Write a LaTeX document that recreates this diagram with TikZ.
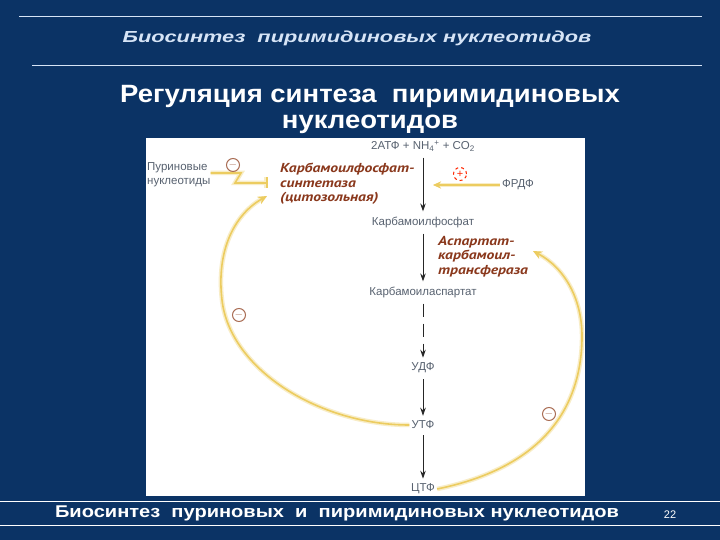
\documentclass[tikz,border=0pt]{standalone}
\usepackage{graphicx}
\usepackage{fontspec}
\setmainfont{Liberation Sans}
\newfontfamily\enzfont{PT Sans}
\usetikzlibrary{arrows.meta}

\definecolor{slideblue}{RGB}{11,51,101}
\definecolor{headtxt}{RGB}{214,228,246}
\definecolor{pathtxt}{RGB}{88,98,112}
\definecolor{enztxt}{RGB}{138,56,28}
\definecolor{feedyel}{RGB}{236,204,96}
\definecolor{signcol}{RGB}{170,110,85}

\newcommand{\widen}[2]{\scalebox{#1}[1]{#2}}

\tikzset{
	pathlbl/.style={text=pathtxt, font=\fontsize{11.5}{14}\selectfont, inner sep=2pt},
	enzlbl/.style={text=enztxt, font=\enzfont\bfseries\itshape\fontsize{13}{14.5}\selectfont, align=left, anchor=north west, inner sep=0pt},
	flow/.style={draw=black!85, line width=0.9pt, -{Stealth[length=8pt,width=5.5pt]}, shorten <=4pt, shorten >=3pt},
	feed/.style={draw=feedyel, line width=1.6pt, preaction={draw=feedyel!35, line width=4.5pt}},
	signbox/.style={circle, draw=signcol, line width=1pt, minimum size=13pt, inner sep=0pt, text=signcol, font=\fontsize{11}{11}\selectfont}
}

\begin{document}
\begin{tikzpicture}[x=1pt, y=-1pt]
			%%%%% START %%%%%
			
			\fill[slideblue] (0, 0) rectangle (720, 540);
			\useasboundingbox (0, 0) rectangle (720, 540);
			
			\draw[headtxt, line width=1pt] (19, 17) -- (702, 17);
			\node[text=headtxt, font=\bfseries\itshape\fontsize{16}{16}\selectfont] (head) at (357, 38) {\widen{1.36}{Биосинтез\ \ пиримидиновых нуклеотидов}};
			\draw[headtxt, line width=1pt] (32, 66) -- (702, 66);
			
			\node[text=white, font=\bfseries\fontsize{25}{28}\selectfont] (title1) at (370, 96) {\widen{1.1}{Регуляция синтеза\ \ пиримидиновых}};
			\node[text=white, font=\bfseries\fontsize{25}{28}\selectfont] (title2) at (370, 124) {\widen{1.1}{нуклеотидов}};
			
			\fill[white] (146, 138) rectangle (585, 496);
			
			% main pathway
			\node[pathlbl] (atp) at (423, 146) {2АТФ + NH\textsubscript{4}\textsuperscript{+} + CO\textsubscript{2}};
			\node[pathlbl] (cp) at (423, 222) {Карбамоилфосфат};
			\node[pathlbl] (ca) at (423, 292) {Карбамоиласпартат};
			\node[pathlbl] (udp) at (423, 368) {УДФ};
			\node[pathlbl] (utp) at (423, 425) {УТФ};
			\node[pathlbl] (ctp) at (423, 489) {ЦТФ};
			
			\draw[flow] (atp) -- (cp);
			\draw[flow] (cp) -- (ca);
			\draw[flow, dash pattern=on 13pt off 7pt] (ca) -- (udp);
			\draw[flow] (udp) -- (utp);
			\draw[flow] (utp) -- (ctp);
			
			% enzymes
			\node[enzlbl] (cps) at (280, 163) {\widen{1.2}{Карбамоилфосфат-}\\\widen{1.2}{синтетаза}\\\widen{1.2}{(цитозольная)}};
			\node[enzlbl] (atc) at (438, 236) {\widen{1.2}{Аспартат-}\\\widen{1.2}{карбамоил-}\\\widen{1.2}{трансфераза}};
			
			% regulators
			\node[pathlbl, align=left, anchor=north west, inner sep=0pt] (pur) at (147, 162) {Пуриновые\\нуклеотиды};
			\node[pathlbl] (prpp) at (518, 185) {ФРДФ};
			\coordinate (cpsin) at (433, 185);
			\coordinate (purbar) at (268, 183);
			\coordinate (cpsup) at (267, 196);
			\coordinate (atcup) at (533, 251);
			
			\draw[feed, -{Stealth[length=8pt,width=7pt]}] (prpp.west) -- (cpsin);
			\draw[feed, -{Bar[width=11pt]}] (pur.east |- 0, 173) -- (241, 173) -- (235, 183) -- (purbar);
			\draw[feed, -{Stealth[length=9pt,width=8pt]}] (utp.west) .. controls (320, 425) and (230, 370) .. (222, 300) .. controls (216, 250) and (235, 214) .. (cpsup);
			\draw[feed, -{Stealth[length=9pt,width=8pt]}] (ctp.east) .. controls (530, 470) and (580, 420) .. (582, 340) .. controls (583, 300) and (565, 268) .. (atcup);
			
			\node[signbox, dashed, draw=red!70!orange, text=red!70!orange] (plus) at (460, 174) {+};
			\node[signbox] (minpur) at (233, 165) {$-$};
			\node[signbox] (minleft) at (239, 315) {$-$};
			\node[signbox] (minright) at (549, 414) {$-$};
			
			% footer
			\draw[white, line width=1pt] (0, 501) -- (720, 501);
			\node[text=white, font=\bfseries\fontsize{17}{17}\selectfont] (foot) at (337, 513) {\widen{1.18}{Биосинтез\ \ пуриновых\ \ и\ \ пиримидиновых нуклеотидов}};
			\node[text=white, font=\fontsize{11}{11}\selectfont] (page) at (670, 515) {22};
			\draw[white, line width=1pt] (0, 525) -- (720, 525);
			
			%%%%% END %%%%%
		\end{tikzpicture}
\end{document}
